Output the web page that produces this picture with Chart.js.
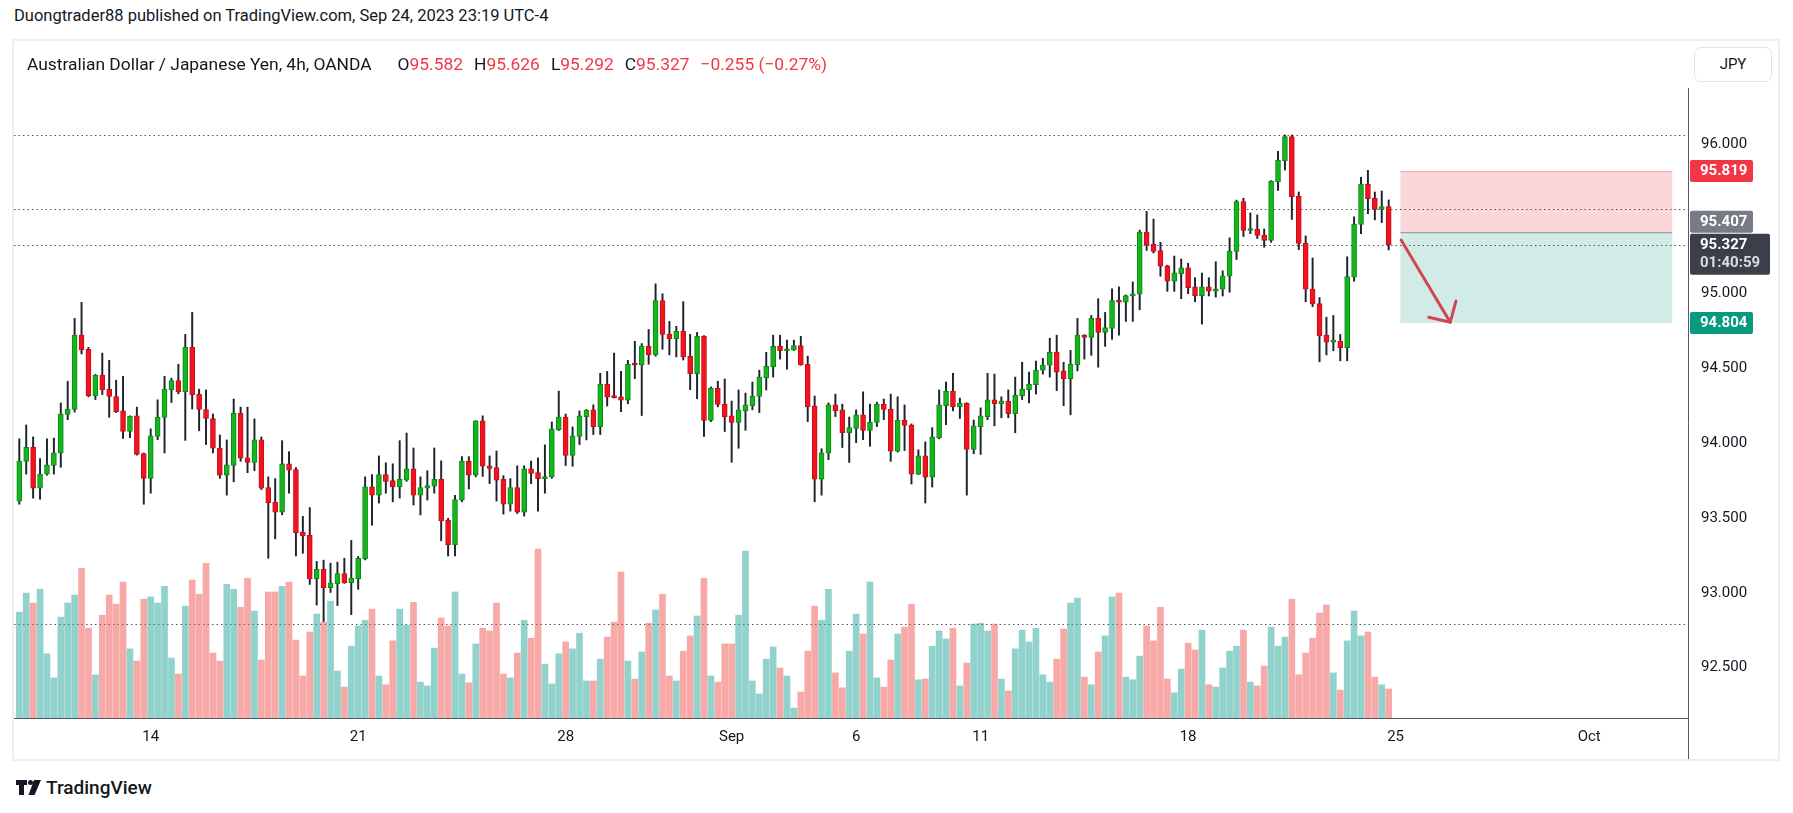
<!DOCTYPE html>
<html>
<head>
<meta charset="utf-8">
<script src="https://cdn.jsdelivr.net/npm/chart.js@4.4.0/dist/chart.umd.min.js"></script>
<style>
  body { margin:0; width:1793px; height:813px; background:#fff; position:relative; overflow:hidden;
         font-family: Roboto, "Noto Sans", sans-serif; color:#131722; }
  #byline { position:absolute; left:14px; top:5px; font-size:16.5px; line-height:22px; }
  #frame { position:absolute; left:12px; top:39px; width:1764px; height:718px; border:2px solid #eceef2; }
  #c { position:absolute; left:14px; top:41px; }
  #legend { position:absolute; left:27px; top:53px; font-size:17.4px; line-height:22px; white-space:nowrap; }
  #legend .v { color:#f23645; }
  #legend .g { margin-left:11px; }
  #legend .g.first { margin-left:26px; }
  #unit { position:absolute; left:1694px; top:47px; width:76px; height:33px; border:1px solid #e0e3eb;
          border-radius:7px; font-size:15px; line-height:33px; text-align:center; background:#fff; }
  #brand { position:absolute; left:16px; top:776px; height:22px; display:flex; align-items:center;
           font-size:19px; font-weight:500; color:#131722; }
  #brand svg { margin-right:4px; }
</style>
</head>
<body>
<div id="byline">Duongtrader88 published on TradingView.com, Sep 24, 2023 23:19 UTC-4</div>
<div id="frame"></div>
<canvas id="c" width="1764" height="718"></canvas>
<div id="legend">Australian Dollar / Japanese Yen, 4h, OANDA<span class="g first">O<span class="v">95.582</span></span><span class="g">H<span class="v">95.626</span></span><span class="g">L<span class="v">95.292</span></span><span class="g">C<span class="v">95.327</span></span><span class="g v">&minus;0.255 (&minus;0.27%)</span></div>
<div id="unit">JPY</div>
<div id="brand"><svg width="26" height="15" viewBox="0 0 26 15"><path d="M0 0h11v5H8v10H3V5H0z" fill="#131722"/><circle cx="14.5" cy="2.5" r="2.5" fill="#131722"/><path d="M18 0h7l-6.5 15h-6z" fill="#131722"/></svg>TradingView</div>
<script>
// AUD/JPY 4h candles, Aug 9 -> Sep 22 2023
var opens = [
  93.613, 93.879, 93.973, 93.699, 93.793, 93.851, 93.935, 94.192, 94.225, 94.722,
  94.628, 94.318, 94.455, 94.361, 94.312, 94.216, 94.078, 94.183, 93.930, 93.765,
  94.045, 94.173, 94.358, 94.419, 94.345, 94.641, 94.328, 94.225, 94.165, 93.968,
  93.786, 93.851, 94.200, 93.902, 93.872, 94.022, 93.704, 93.605, 93.539, 93.862,
  93.824, 93.404, 93.384, 93.093, 93.157, 93.035, 93.061, 93.129, 93.068, 93.093,
  93.228, 93.709, 93.653, 93.790, 93.750, 93.707, 93.753, 93.829, 93.653, 93.699,
  93.712, 93.758, 93.485, 93.320, 93.620, 93.881, 93.786, 94.149, 93.849, 93.837,
  93.758, 93.592, 93.704, 93.539, 93.829, 93.803, 93.763, 93.775, 94.091, 94.175,
  93.918, 94.045, 94.178, 94.223, 94.111, 94.394, 94.310, 94.310, 94.287, 94.528,
  94.523, 94.648, 94.590, 94.954, 94.727, 94.699, 94.748, 94.582, 94.465, 94.714,
  94.152, 94.368, 94.261, 94.183, 94.139, 94.218, 94.251, 94.312, 94.437, 94.511,
  94.648, 94.618, 94.623, 94.653, 94.528, 94.249, 93.760, 93.933, 94.256, 94.223,
  94.070, 94.099, 94.190, 94.086, 94.139, 94.261, 94.228, 93.946, 94.155, 94.121,
  93.793, 93.915, 93.773, 94.035, 94.251, 94.348, 94.243, 94.269, 93.958, 94.111,
  94.178, 94.290, 94.264, 94.282, 94.198, 94.317, 94.358, 94.391, 94.488, 94.521,
  94.607, 94.483, 94.432, 94.523, 94.722, 94.707, 94.834, 94.740, 94.768, 94.954,
  94.943, 94.984, 94.997, 95.412, 95.330, 95.287, 95.185, 95.083, 95.134, 95.172,
  95.045, 94.986, 95.045, 95.017, 95.030, 95.116, 95.282, 95.615, 95.422, 95.432,
  95.391, 95.356, 95.747, 95.887, 96.050, 95.651, 95.338, 95.030, 94.933, 94.722,
  94.676, 94.681, 94.638, 95.109, 95.462, 95.732, 95.638, 95.562, 95.582
];
var highs = [
  94.029, 94.122, 94.042, 93.897, 94.029, 94.034, 94.269, 94.414, 94.834, 94.941,
  94.641, 94.460, 94.602, 94.554, 94.421, 94.447, 94.183, 94.241, 93.935, 94.096,
  94.290, 94.447, 94.434, 94.528, 94.727, 94.874, 94.361, 94.356, 94.195, 94.055,
  94.022, 94.295, 94.241, 94.241, 94.162, 94.042, 93.775, 93.763, 94.017, 93.943,
  93.837, 93.511, 93.570, 93.210, 93.218, 93.198, 93.205, 93.231, 93.350, 93.243,
  93.775, 93.790, 93.915, 93.869, 93.862, 94.017, 94.068, 93.968, 93.775, 93.816,
  93.968, 93.882, 93.498, 93.651, 93.910, 93.910, 94.150, 94.183, 93.915, 93.948,
  93.783, 93.763, 93.849, 93.849, 93.881, 93.903, 93.989, 94.142, 94.348, 94.195,
  94.109, 94.216, 94.225, 94.256, 94.467, 94.480, 94.602, 94.480, 94.554, 94.681,
  94.666, 94.760, 95.065, 94.999, 94.814, 94.781, 94.946, 94.727, 94.740, 94.720,
  94.376, 94.414, 94.429, 94.282, 94.356, 94.335, 94.409, 94.488, 94.607, 94.722,
  94.722, 94.689, 94.689, 94.714, 94.582, 94.315, 93.963, 94.269, 94.328, 94.261,
  94.175, 94.223, 94.343, 94.261, 94.274, 94.295, 94.328, 94.310, 94.256, 94.129,
  93.956, 94.009, 94.104, 94.356, 94.409, 94.467, 94.302, 94.270, 94.155, 94.236,
  94.467, 94.462, 94.310, 94.356, 94.442, 94.541, 94.475, 94.549, 94.567, 94.702,
  94.722, 94.541, 94.620, 94.834, 94.725, 94.854, 94.966, 94.874, 95.032, 95.045,
  94.991, 95.078, 95.424, 95.549, 95.498, 95.343, 95.190, 95.251, 95.231, 95.203,
  95.106, 95.137, 95.106, 95.213, 95.152, 95.373, 95.625, 95.638, 95.539, 95.526,
  95.432, 95.755, 95.951, 96.060, 96.060, 95.679, 95.386, 95.238, 94.974, 94.842,
  94.854, 94.727, 95.246, 95.513, 95.778, 95.824, 95.679, 95.686, 95.626
];
var lows = [
  93.592, 93.793, 93.633, 93.625, 93.786, 93.793, 93.839, 94.157, 94.208, 94.597,
  94.310, 94.292, 94.325, 94.173, 94.205, 94.032, 94.037, 93.920, 93.592, 93.666,
  94.024, 93.935, 94.272, 94.330, 94.019, 94.228, 94.083, 93.991, 93.935, 93.765,
  93.653, 93.742, 93.879, 93.803, 93.816, 93.690, 93.231, 93.361, 93.521, 93.666,
  93.246, 93.264, 93.056, 92.918, 92.808, 93.002, 92.915, 93.063, 92.854, 93.023,
  93.220, 93.452, 93.600, 93.666, 93.608, 93.633, 93.745, 93.587, 93.521, 93.620,
  93.666, 93.348, 93.246, 93.246, 93.608, 93.694, 93.775, 93.778, 93.730, 93.613,
  93.526, 93.546, 93.530, 93.513, 93.730, 93.546, 93.666, 93.765, 94.085, 93.851,
  93.846, 93.991, 94.022, 94.058, 94.058, 94.249, 94.302, 94.210, 94.264, 94.432,
  94.185, 94.528, 94.582, 94.628, 94.590, 94.577, 94.556, 94.358, 94.297, 94.045,
  94.144, 94.243, 94.078, 93.872, 93.966, 94.086, 94.223, 94.205, 94.356, 94.442,
  94.562, 94.495, 94.620, 94.521, 94.144, 93.608, 93.653, 93.890, 94.178, 93.971,
  93.872, 94.004, 94.024, 93.979, 94.111, 94.157, 93.879, 93.940, 93.951, 93.727,
  93.790, 93.600, 93.707, 94.029, 94.124, 94.216, 94.165, 93.653, 93.930, 93.925,
  94.157, 94.116, 94.170, 94.170, 94.070, 94.292, 94.269, 94.328, 94.462, 94.442,
  94.351, 94.251, 94.190, 94.483, 94.562, 94.587, 94.508, 94.648, 94.694, 94.722,
  94.814, 94.814, 94.892, 95.289, 95.271, 95.116, 95.015, 95.015, 94.966, 94.999,
  94.946, 94.796, 94.984, 94.976, 94.984, 95.009, 95.228, 95.381, 95.401, 95.368,
  95.310, 95.343, 95.689, 95.826, 95.496, 95.294, 94.946, 94.913, 94.544, 94.590,
  94.618, 94.551, 94.551, 95.083, 95.401, 95.534, 95.493, 95.475, 95.292
];
var closes = [
  93.881, 93.973, 93.699, 93.793, 93.856, 93.935, 94.195, 94.228, 94.722, 94.623,
  94.318, 94.455, 94.358, 94.312, 94.210, 94.078, 94.180, 93.925, 93.765, 94.050,
  94.173, 94.361, 94.419, 94.345, 94.641, 94.325, 94.225, 94.165, 93.966, 93.786,
  93.856, 94.200, 93.900, 93.872, 94.022, 93.699, 93.600, 93.539, 93.862, 93.819,
  93.402, 93.381, 93.093, 93.157, 93.035, 93.066, 93.129, 93.068, 93.099, 93.231,
  93.709, 93.653, 93.790, 93.745, 93.707, 93.758, 93.829, 93.653, 93.704, 93.717,
  93.758, 93.481, 93.320, 93.623, 93.881, 93.786, 94.149, 93.847, 93.831, 93.753,
  93.592, 93.704, 93.539, 93.829, 93.798, 93.763, 93.775, 94.096, 94.175, 93.918,
  94.050, 94.183, 94.222, 94.111, 94.394, 94.307, 94.305, 94.287, 94.528, 94.523,
  94.648, 94.590, 94.954, 94.727, 94.699, 94.748, 94.577, 94.465, 94.714, 94.152,
  94.368, 94.259, 94.178, 94.139, 94.223, 94.256, 94.315, 94.442, 94.516, 94.648,
  94.618, 94.628, 94.653, 94.523, 94.243, 93.760, 93.935, 94.256, 94.218, 94.070,
  94.104, 94.190, 94.086, 94.139, 94.261, 94.225, 93.946, 94.155, 94.119, 93.793,
  93.915, 93.773, 94.042, 94.256, 94.348, 94.243, 94.269, 93.958, 94.116, 94.183,
  94.290, 94.264, 94.282, 94.198, 94.322, 94.361, 94.396, 94.488, 94.521, 94.607,
  94.475, 94.432, 94.528, 94.722, 94.707, 94.834, 94.740, 94.773, 94.954, 94.943,
  94.986, 94.999, 95.412, 95.325, 95.282, 95.183, 95.083, 95.139, 95.172, 95.040,
  94.986, 95.045, 95.017, 95.030, 95.119, 95.284, 95.615, 95.422, 95.432, 95.389,
  95.356, 95.752, 95.892, 96.050, 95.648, 95.335, 95.030, 94.931, 94.717, 94.676,
  94.681, 94.638, 95.114, 95.465, 95.732, 95.635, 95.562, 95.582, 95.327
];
var volumes = [
  277, 327, 301, 337, 168, 105, 264, 301, 322, 392,
  235, 113, 269, 322, 298, 356, 181, 149, 311, 317,
  301, 345, 157, 115, 293, 361, 324, 405, 170, 149,
  350, 337, 290, 366, 280, 152, 330, 330, 345, 356,
  204, 110, 225, 272, 251, 306, 123, 81, 188, 241,
  256, 285, 110, 87, 202, 285, 243, 303, 94, 84,
  183, 262, 241, 330, 115, 92, 194, 235, 228, 301,
  115, 105, 170, 256, 209, 442, 141, 89, 168, 199,
  181, 222, 97, 97, 154, 212, 251, 382, 149, 102,
  173, 248, 283, 324, 110, 97, 175, 215, 267, 366,
  110, 94, 194, 194, 269, 437, 97, 63, 154, 186,
  131, 110, 26, 68, 175, 293, 256, 337, 118, 79,
  175, 272, 220, 356, 105, 81, 152, 220, 238, 298,
  100, 102, 188, 228, 207, 235, 84, 144, 246, 248,
  228, 246, 102, 71, 181, 230, 199, 235, 113, 94,
  154, 233, 301, 314, 107, 87, 173, 215, 317, 327,
  107, 100, 162, 241, 202, 290, 102, 66, 128, 196,
  178, 230, 87, 81, 131, 175, 188, 230, 94, 84,
  136, 238, 188, 212, 311, 113, 170, 209, 275, 296,
  118, 73, 202, 280, 215, 225, 107, 87, 76
];

// time axis: bar index -> label
var dateTicks = [19, 49, 79, 103, 121, 139, 169, 199, 227];
var dateLabels = ['14', '21', '28', 'Sep', '6', '11', '18', '25', 'Oct'];
var priceTicks = [92.5, 93, 93.5, 94, 94.5, 95, 96];

// drawings
var hLines = [96.06, 95.565, 92.789];
var lastPrice = 95.327;
var countdown = '01:40:59';
var posStart = 199.7, posEnd = 239;
var stopPrice = 95.819, entryPrice = 95.407, targetPrice = 94.804;
var arrowFrom = [199.8, 95.358], arrowTo = [206.9, 94.808];

var idx = closes.map(function (c, i) { return i; });
var up = closes.map(function (c, i) { return c >= opens[i]; });

Chart.defaults.font.family = 'Roboto';

function tag(ctx, x, y, w, h, bg, text, sub) {
  ctx.fillStyle = bg;
  ctx.beginPath();
  ctx.roundRect(x, y, w, h, 2);
  ctx.fill();
  ctx.fillStyle = '#ffffff';
  ctx.font = 'bold 15px Roboto';
  ctx.textAlign = 'left';
  ctx.textBaseline = 'middle';
  ctx.fillText(text, x + 10, y + 11.5);
  if (sub) {
    ctx.fillStyle = '#d8dae0';
    ctx.fillText(sub, x + 10, y + 30);
  }
}

var drawings = {
  id: 'drawings',
  beforeDatasetsDraw: function (chart) {
    var ctx = chart.ctx, a = chart.chartArea;
    var x = chart.scales.x, y = chart.scales.y;
    ctx.save();
    var x0 = x.getPixelForValue(posStart), x1 = x.getPixelForValue(posEnd);
    var yS = y.getPixelForValue(stopPrice), yE = y.getPixelForValue(entryPrice), yT = y.getPixelForValue(targetPrice);
    ctx.fillStyle = 'rgba(242,54,69,0.2)';
    ctx.fillRect(x0, yS, x1 - x0, yE - yS);
    ctx.fillStyle = 'rgba(8,153,129,0.19)';
    ctx.fillRect(x0, yE, x1 - x0, yT - yE);
    ctx.strokeStyle = 'rgba(242,54,69,0.3)';
    ctx.lineWidth = 1;
    ctx.beginPath(); ctx.moveTo(x0, yS + 0.5); ctx.lineTo(x1, yS + 0.5); ctx.stroke();
    ctx.strokeStyle = '#8d9099';
    ctx.beginPath(); ctx.moveTo(x0, yE); ctx.lineTo(x1, yE); ctx.stroke();

    ctx.setLineDash([1.5, 3]);
    ctx.strokeStyle = '#50535e';
    hLines.concat([lastPrice]).forEach(function (p) {
      var py = Math.round(y.getPixelForValue(p)) + 0.5;
      ctx.beginPath(); ctx.moveTo(a.left, py); ctx.lineTo(a.right, py); ctx.stroke();
    });
    ctx.restore();
  },
  afterDraw: function (chart) {
    var ctx = chart.ctx, a = chart.chartArea;
    var x = chart.scales.x, y = chart.scales.y;
    ctx.save();
    // arrow
    var ax = x.getPixelForValue(arrowFrom[0]), ay = y.getPixelForValue(arrowFrom[1]);
    var bx = x.getPixelForValue(arrowTo[0]), by = y.getPixelForValue(arrowTo[1]);
    var ang = Math.atan2(by - ay, bx - ax);
    ctx.strokeStyle = '#cf4650';
    ctx.lineWidth = 3;
    ctx.lineCap = 'round';
    ctx.beginPath();
    ctx.moveTo(ax, ay); ctx.lineTo(bx, by);
    ctx.moveTo(bx + 22 * Math.cos(ang + Math.PI - 0.8), by + 22 * Math.sin(ang + Math.PI - 0.8));
    ctx.lineTo(bx, by);
    ctx.lineTo(bx + 22 * Math.cos(ang + Math.PI + 0.8), by + 22 * Math.sin(ang + Math.PI + 0.8));
    ctx.stroke();

    // axis lines
    ctx.strokeStyle = '#555963';
    ctx.lineWidth = 1;
    ctx.lineCap = 'butt';
    ctx.beginPath();
    ctx.moveTo(a.right + 0.5, 47); ctx.lineTo(a.right + 0.5, chart.height);
    ctx.moveTo(a.left, a.bottom + 0.5); ctx.lineTo(a.right, a.bottom + 0.5);
    ctx.stroke();

    // price tags
    var tx = a.right + 2;
    var ys = y.getPixelForValue(stopPrice);
    tag(ctx, tx, ys - 11, 63, 22, '#f23645', stopPrice.toFixed(3));
    var ye = y.getPixelForValue(entryPrice);
    tag(ctx, tx, ye - 22, 63, 22, '#787b86', entryPrice.toFixed(3));
    var yl = y.getPixelForValue(lastPrice);
    tag(ctx, tx, yl - 11, 80, 41, '#3c3f4a', lastPrice.toFixed(3), countdown);
    var yt = y.getPixelForValue(targetPrice);
    tag(ctx, tx, yt - 11, 63, 22, '#089981', targetPrice.toFixed(3));
    ctx.restore();
  }
};

new Chart(document.getElementById('c'), {
  type: 'bar',
  data: {
    datasets: [
      {
        label: 'body',
        data: idx.map(function (i) { return { x: i, y: [opens[i], closes[i]] }; }),
        backgroundColor: up.map(function (u) { return u ? '#14b51f' : '#f2131f'; }),
        borderColor: up.map(function (u) { return u ? '#0a8a12' : '#c40e1a'; }),
        borderWidth: 1,
        borderSkipped: false,
        barThickness: 5,
        minBarLength: 2,
        grouped: false,
        yAxisID: 'y',
        order: 1
      },
      {
        label: 'wick',
        data: idx.map(function (i) { return { x: i, y: [lows[i], highs[i]] }; }),
        backgroundColor: '#1e222d',
        barThickness: 1.3,
        grouped: false,
        yAxisID: 'y',
        order: 2
      },
      {
        label: 'volume',
        data: idx.map(function (i) { return { x: i, y: volumes[i] }; }),
        backgroundColor: up.map(function (u) { return u ? 'rgba(38,166,154,0.5)' : 'rgba(239,83,80,0.5)'; }),
        barThickness: 6,
        grouped: false,
        yAxisID: 'yv',
        order: 3
      }
    ]
  },
  options: {
    responsive: false,
    animation: false,
    devicePixelRatio: 1,
    layout: { padding: { top: 1, left: 0, right: 0, bottom: 0 } },
    plugins: { legend: { display: false }, tooltip: { enabled: false } },
    scales: {
      x: {
        type: 'linear',
        min: -0.766,
        max: 241.28,
        offset: false,
        grid: { display: false, drawTicks: false },
        border: { display: false },
        afterBuildTicks: function (s) { s.ticks = dateTicks.map(function (v) { return { value: v }; }); },
        afterFit: function (s) { s.height = 41; s.paddingLeft = 0; s.paddingRight = 0; },
        ticks: {
          autoSkip: false,
          maxRotation: 0,
          padding: 10,
          color: '#131722',
          font: { size: 15 },
          callback: function (v) { return dateLabels[dateTicks.indexOf(v)]; }
        }
      },
      y: {
        position: 'right',
        min: 92.1631,
        max: 96.6818,
        grid: { display: false, drawTicks: false },
        border: { display: false },
        afterBuildTicks: function (s) { s.ticks = priceTicks.map(function (v) { return { value: v }; }); },
        afterFit: function (s) { s.width = 90; s.paddingTop = 0; s.paddingBottom = 0; },
        ticks: {
          padding: 13,
          color: '#131722',
          font: { size: 15 },
          callback: function (v) { return Number(v).toFixed(3); }
        }
      },
      yv: { display: false, min: 0, max: 1770 }
    }
  },
  plugins: [drawings]
});
</script>
</body>
</html>
